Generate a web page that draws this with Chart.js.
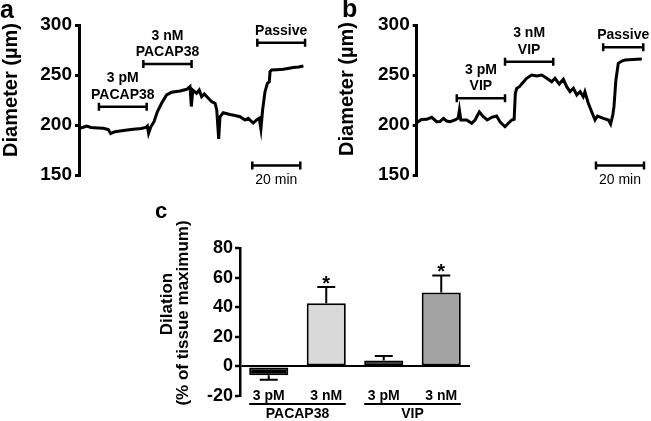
<!DOCTYPE html>
<html>
<head>
<meta charset="utf-8">
<script src="https://cdn.jsdelivr.net/npm/chart.js@4.4.0/dist/chart.umd.min.js"></script>
<style>
  html, body { margin: 0; padding: 0; background: #fff; overflow: hidden; }
  #wrap { position: relative; width: 651px; height: 421px; }
  canvas { position: absolute; }
</style>
</head>
<body>
<div id="wrap">
  <canvas id="chartA" width="325" height="200" style="left:0;top:0"></canvas>
  <canvas id="chartB" width="326" height="200" style="left:325px;top:0"></canvas>
  <canvas id="chartC" width="340" height="221" style="left:140px;top:200px"></canvas>
</div>
<script>
// panel a: diameter trace with PACAP38 (time in min, diameter in µm)
const timeA = [0, 1.5, 3.2, 5, 8, 10.1, 12.2, 13.2, 15, 18.5, 22.6, 26, 27.8, 28.5, 29, 29.9,
  31.25, 32.6, 34.4, 36.5, 38.6, 42.1, 44.9, 46.25, 46.8, 47.4, 49, 50.1, 51.1, 52.2, 53.9,
  55.3, 56.7, 57.4, 58.2, 58.75, 60.1, 62.9, 65, 67.1, 69.2, 70.5, 72.6, 74, 75.1, 75.8,
  76.5, 77.5, 78.5, 79.3, 79.6, 80.3, 82.4, 85.1, 87, 89.3, 91.5, 93.5];
const diamA = [197, 197.5, 199, 197.5, 197, 196.7, 195.5, 191.5, 193.3, 194.5, 195.7, 196.5, 197.5, 199, 191.7, 198,
  203.3, 213, 221.7, 230, 232.7, 234, 235.7, 238.5, 218.5, 235, 231.7, 235, 228.3, 231, 226.7,
  223.3, 221.7, 215, 186, 208.3, 212.3, 210.5, 209.5, 208.3, 205, 206.7, 202, 205, 206.7, 196,
  215, 233.3, 241.7, 243.3, 253.3, 255, 255.3, 255.7, 256.5, 257.5, 258, 259];

// panel b: diameter trace with VIP
const timeB = [0, 0.7, 2, 4.2, 6.25, 8.3, 9.7, 11.1, 12.5, 13.9, 16, 17.3, 17.8, 18.4, 20.8, 22.9,
  24.3, 26.1, 27.75, 29.4, 31.25, 33.3, 34.7, 36.8, 38.2, 39.6, 40.6, 41.1, 41.7, 42.8, 43.75,
  45.8, 47.9, 50, 52.1, 54.2, 56.25, 57.6, 59.4, 61.1, 62.5, 63.9, 65.3, 66.7, 68.1, 69.4,
  70.1, 71.5, 72.9, 74.3, 75.3, 77.8, 79.9, 80.8, 81.7, 82.2, 83, 84, 85.5, 86.8, 90, 93.8];
const diamB = [202, 203.5, 205.5, 205.7, 207.7, 203.3, 203.5, 206.5, 204, 203.3, 205, 207, 215, 205, 205, 201.7,
  205, 213, 208.3, 205, 207.7, 209, 203.3, 198.3, 201.7, 205, 205.7, 231.7, 236.7, 238.3, 241,
  246.7, 250, 249, 250, 246.7, 243.3, 246.7, 241, 245.7, 238.3, 233.3, 236.7, 230, 233.3, 228.3,
  233.3, 221.7, 213.3, 205, 209, 206.7, 205, 201, 210, 218.3, 245, 261.7, 264, 265, 265.5, 266];

const diameterTicks = [150, 200, 250, 300];

// drug application periods (min) and the diameter level their bar sits at
const drugLabelsA = [['3 pM', 'PACAP38'], ['3 nM', 'PACAP38'], ['Passive']];
const drugStartA = [8.3, 26.8, 74.3];
const drugEndA = [28.2, 46.9, 94.2];
const drugLevelA = [218.3, 261, 282.3];

const drugLabelsB = [['3 pM', 'VIP'], ['3 nM', 'VIP'], ['Passive']];
const drugStartB = [16.7, 36.8, 77.7];
const drugEndB = [36.8, 56.9, 94.4];
const drugLevelB = [226.7, 263.3, 277.7];

const scaleBarLabel = '20 min';
const scaleBarMinutes = 20;
const scaleBarStartA = 72.2;
const scaleBarStartB = 74.7;
const scaleBarLevel = 159.5;

// panel c: dilation summary
const doseLabels = ['3 pM', '3 nM', '3 pM', '3 nM'];
const peptideLabels = ['PACAP38', 'VIP'];
const dilationMean = [-6, 42.7, 4, 50];
const dilationSem = [3, 11, 3, 11.5];
const significant = [false, true, false, true];
const dilationTicks = [-20, 0, 20, 40, 60, 80];

const FONT = 'Arial, "Liberation Sans", sans-serif';
Chart.defaults.font.family = FONT;
Chart.defaults.color = '#000';

function rotatedText(ctx, text, cx, cy, font) {
    ctx.save();
    ctx.translate(cx, cy);
    ctx.rotate(-Math.PI / 2);
    ctx.font = font;
    ctx.textAlign = 'center';
    ctx.textBaseline = 'middle';
    ctx.fillText(text, 0, 0);
    ctx.restore();
}

function bracket(ctx, x0, x1, y) {
    ctx.beginPath();
    ctx.moveTo(x0, y); ctx.lineTo(x1, y);
    ctx.moveTo(x0, y - 4); ctx.lineTo(x0, y + 4);
    ctx.moveTo(x1, y - 4); ctx.lineTo(x1, y + 4);
    ctx.stroke();
}

// panel letter + rotated axis titles
function panelText(letter, letterX, letterY, letterSize, titles) {
    return {
        id: 'panelText',
        afterDraw(chart) {
            const ctx = chart.ctx;
            ctx.save();
            ctx.fillStyle = '#000';
            ctx.font = 'bold ' + letterSize + 'px ' + FONT;
            ctx.textAlign = 'left';
            ctx.textBaseline = 'alphabetic';
            ctx.fillText(letter, letterX, letterY);
            titles.forEach(t => rotatedText(ctx, t.text, t.x, t.y, 'bold ' + t.size + 'px ' + FONT));
            ctx.restore();
        }
    };
}

// drug bars and the time scale bar
function drugBars(labels, start, end, level, barStart) {
    return {
        id: 'drugBars',
        afterDraw(chart) {
            const {ctx, scales: {x, y}} = chart;
            ctx.save();
            ctx.strokeStyle = '#000';
            ctx.fillStyle = '#000';
            ctx.lineWidth = 2.5;
            ctx.textAlign = 'center';
            ctx.textBaseline = 'alphabetic';
            ctx.font = 'bold 14px ' + FONT;
            start.forEach((s, i) => {
                const x0 = x.getPixelForValue(s);
                const x1 = x.getPixelForValue(end[i]);
                const yy = y.getPixelForValue(level[i]);
                bracket(ctx, x0, x1, yy);
                const lines = labels[i];
                lines.forEach((t, k) => {
                    ctx.fillText(t, (x0 + x1) / 2, yy - 8 - (lines.length - 1 - k) * 16.5);
                });
            });
            const b0 = x.getPixelForValue(barStart);
            const b1 = x.getPixelForValue(barStart + scaleBarMinutes);
            const by = y.getPixelForValue(scaleBarLevel);
            bracket(ctx, b0, b1, by);
            ctx.font = '14px ' + FONT;
            ctx.fillText(scaleBarLabel, (b0 + b1) / 2, by + 18);
            ctx.restore();
        }
    };
}

function traceChart(id, times, diams, axisWidth, padRight, extraPlugins) {
    return new Chart(document.getElementById(id), {
        type: 'line',
        data: {
            datasets: [{
                data: times.map((t, i) => ({x: t, y: diams[i]})),
                borderColor: '#000',
                borderWidth: 3,
                pointRadius: 0,
                tension: 0,
                fill: false
            }]
        },
        options: {
            responsive: false,
            animation: false,
            layout: { autoPadding: false, padding: { left: 0, right: padRight, top: 25, bottom: 25 } },
            plugins: { legend: { display: false }, tooltip: { enabled: false } },
            scales: {
                x: { type: 'linear', min: 0, max: 94, display: false },
                y: {
                    min: 150,
                    max: 300,
                    afterBuildTicks: s => { s.ticks = diameterTicks.map(v => ({ value: v })); },
                    afterFit: s => { s.width = axisWidth; },
                    ticks: { color: '#000', padding: 3, font: { size: 19, weight: 'bold' } },
                    grid: { drawOnChartArea: false, color: '#000', lineWidth: 3, tickLength: 4 },
                    border: { color: '#000', width: 3 }
                }
            }
        },
        plugins: extraPlugins
    });
}

traceChart('chartA', timeA, diamA, 79, 20.4, [
    drugBars(drugLabelsA, drugStartA, drugEndA, drugLevelA, scaleBarStartA),
    panelText('a', 0, 18, 25, [{ text: 'Diameter (µm)', x: 11, y: 90, size: 20 }])
]);

traceChart('chartB', timeB, diamB, 91.7, 8.7, [
    drugBars(drugLabelsB, drugStartB, drugEndB, drugLevelB, scaleBarStartB),
    panelText('b', 17, 17, 25, [{ text: 'Diameter (µm)', x: 22, y: 89, size: 20 }])
]);

// error bars, significance stars and grouped category labels
const barExtras = {
    id: 'barExtras',
    afterDatasetsDraw(chart) {
        const {ctx, chartArea, scales: {y}} = chart;
        const bars = chart.getDatasetMeta(0).data;
        ctx.save();
        ctx.strokeStyle = '#000';
        ctx.fillStyle = '#000';
        ctx.lineWidth = 2;
        ctx.textAlign = 'center';
        ctx.textBaseline = 'alphabetic';
        bars.forEach((bar, i) => {
            const m = dilationMean[i];
            const s = dilationSem[i];
            const y0 = y.getPixelForValue(m);
            const y1 = y.getPixelForValue(m < 0 ? m - s : m + s);
            ctx.beginPath();
            ctx.moveTo(bar.x, y0); ctx.lineTo(bar.x, y1);
            ctx.moveTo(bar.x - 9, y1); ctx.lineTo(bar.x + 9, y1);
            ctx.stroke();
            if (significant[i]) {
                ctx.font = 'bold 20px ' + FONT;
                ctx.fillText('*', bar.x, y1 + 3);
            }
            ctx.font = 'bold 14px ' + FONT;
            ctx.fillText(doseLabels[i], bar.x, chartArea.bottom + 3.5);
        });
        peptideLabels.forEach((p, g) => {
            const a = bars[g * 2], b = bars[g * 2 + 1];
            const x0 = a.x - a.width / 2, x1 = b.x + b.width / 2;
            ctx.beginPath();
            ctx.moveTo(x0, chartArea.bottom + 8);
            ctx.lineTo(x1, chartArea.bottom + 8);
            ctx.stroke();
            ctx.font = 'bold 14px ' + FONT;
            ctx.fillText(p, (x0 + x1) / 2, chartArea.bottom + 22);
        });
        ctx.restore();
    }
};

new Chart(document.getElementById('chartC'), {
    type: 'bar',
    data: {
        labels: doseLabels,
        datasets: [{
            data: dilationMean,
            backgroundColor: ['#000000', '#d9d9d9', '#000000', '#a3a3a3'],
            borderColor: '#000',
            borderWidth: 2,
            borderSkipped: false,
            barPercentage: 0.68,
            categoryPercentage: 1
        }]
    },
    options: {
        responsive: false,
        animation: false,
        layout: { autoPadding: false, padding: { left: 0, right: 10, top: 48, bottom: 25 } },
        plugins: { legend: { display: false }, tooltip: { enabled: false } },
        scales: {
            x: { display: false },
            y: {
                min: -20,
                max: 80,
                afterBuildTicks: s => { s.ticks = dilationTicks.map(v => ({ value: v })); },
                afterFit: s => { s.width = 100; },
                ticks: { color: '#000', padding: 2, font: { size: 18, weight: 'bold' } },
                grid: {
                    color: c => (c.tick && c.tick.value === 0) ? '#000' : 'rgba(0,0,0,0)',
                    lineWidth: 2,
                    tickColor: '#000',
                    tickWidth: 2.5,
                    tickLength: 5
                },
                border: { color: '#000', width: 2.5 }
            }
        }
    },
    plugins: [
        barExtras,
        panelText('c', 15, 17.5, 22, [
            { text: 'Dilation', x: 27, y: 104, size: 17 },
            { text: '(% of tissue maximum)', x: 43.5, y: 113, size: 17 }
        ])
    ]
});
</script>
</body>
</html>
